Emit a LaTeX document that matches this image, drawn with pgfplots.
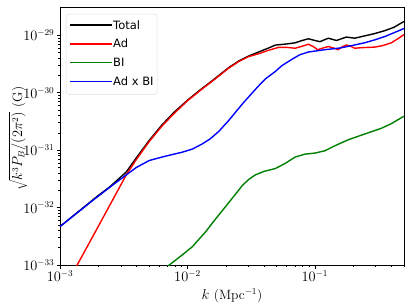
\documentclass[border=0pt]{standalone}
\usepackage{fontspec}
\newfontfamily\legendfont{DejaVu Sans}
\usepackage{pgfplots}
\pgfplotsset{compat=1.18}
\definecolor{mplgreen}{HTML}{008000}
\definecolor{mplblue}{HTML}{0000FF}
\definecolor{mplred}{HTML}{FF0000}
\begin{document}
\begin{tikzpicture}
\useasboundingbox (-60pt,-42pt) rectangle (353pt,265pt);
\begin{axis}[
  at={(0pt,0pt)}, anchor=south west,
  scale only axis, width=344pt, height=257.5pt,
  xmode=log, ymode=log,
  xmin=1e-3, xmax=0.5, ymin=1e-33, ymax=3.05e-29,
  axis line style={line width=0.8pt},
  tick align=outside, tick pos=left,
  major tick length=3.5pt, minor tick length=2pt,
  every tick/.style={black, line width=0.6pt},
  tick label style={font=\fontsize{13.5}{16}\selectfont},
  xticklabel style={inner sep=1.5pt},
  yticklabel style={inner sep=2pt},
  xlabel={$k$ (Mpc$^{-1}$)},
  ylabel={$\sqrt{k^3 P_B/(2\pi^2)}$ (G)},
  every axis x label/.style={at={(axis description cs:0.5,-0.1332)}, anchor=base,
    font=\fontsize{13.5}{16}\selectfont},
  every axis y label/.style={at={(axis description cs:-0.1221,0.491)}, anchor=center, rotate=90,
    font=\fontsize{13.5}{16}\selectfont},
  legend cell align=left,
  legend style={at={(0.0174,0.975)}, anchor=north west, draw=black!12,
    rounded corners=2.5pt, fill=white, inner xsep=3.6pt, inner ysep=2.3pt,
    font=\legendfont\fontsize{11.5}{13}\selectfont,
    nodes={inner sep=0pt, text height=12.6pt, text depth=6.3pt}},
  legend image code/.code={\draw[#1] (2pt,1pt) -- (31pt,1pt); \path (0pt,1pt) -- (42pt,1pt);},
  every axis plot/.append style={line width=1.4pt, line join=round},
]
\addlegendimage{color=black, line width=1.4pt}
\addlegendentry{Total}
\addlegendimage{color=mplred, line width=1.4pt}
\addlegendentry{Ad}
\addlegendimage{color=mplgreen, line width=1.4pt}
\addlegendentry{BI}
\addlegendimage{color=mplblue, line width=1.4pt}
\addlegendentry{Ad x BI}
% Total
\addplot[color=black, forget plot] coordinates {
(0.001,4.677e-33) (1.585e-3,1.072e-32) (1.995e-3,1.622e-32) (2.455e-3,2.291e-32)
(3.311e-3,4.169e-32) (3.981e-3,7.413e-32) (5.012e-3,1.479e-31)
(6.310e-3,2.754e-31) (7.943e-3,4.677e-31) (1e-2,7.413e-31)
(1.259e-2,1.122e-30) (1.585e-2,1.660e-30) (2.113e-2,2.754e-30) (2.512e-2,3.548e-30)
(3.027e-2,4.365e-30) (3.622e-2,5.129e-30) (4.335e-2,6.026e-30) (4.887e-2,6.761e-30)
(6.026e-2,7.079e-30) (6.998e-2,7.413e-30) (7.943e-2,8.128e-30) (8.892e-2,8.710e-30)
(0.1,8.128e-30) (0.1096,7.762e-30) (0.1274,8.913e-30) (0.1476,8.128e-30)
(0.1766,9.333e-30) (0.2051,8.913e-30) (0.2455,9.772e-30) (0.2938,1.072e-29)
(0.3516,1.202e-29) (0.4169,1.380e-29) (0.4898,1.698e-29) (0.5,1.738e-29)
};
% Ad
\addplot[color=mplred, forget plot] coordinates {
(1.318e-3,8.710e-34) (1.995e-3,4.677e-33) (2.512e-3,1.202e-32) (3.311e-3,3.715e-32)
(3.981e-3,6.918e-32) (5.012e-3,1.413e-31) (6.310e-3,2.630e-31) (7.943e-3,4.467e-31)
(1e-2,7.244e-31) (1.259e-2,1.096e-30) (1.585e-2,1.622e-30) (2.113e-2,2.692e-30)
(2.512e-2,3.467e-30) (3.027e-2,4.266e-30) (3.622e-2,4.786e-30) (4.335e-2,5.495e-30)
(5.188e-2,6.166e-30) (6.026e-2,6.166e-30) (6.998e-2,5.957e-30) (7.943e-2,6.457e-30)
(8.892e-2,7.000e-30) (9.772e-2,6.310e-30) (0.1052,5.623e-30) (0.1161,6.026e-30)
(0.1274,6.383e-30) (0.1396,6.026e-30) (0.1521,5.623e-30) (0.1641,6.310e-30)
(0.1766,6.808e-30) (0.1905,6.457e-30) (0.2051,5.957e-30) (0.2312,6.095e-30)
(0.2630,6.166e-30) (0.2938,6.237e-30) (0.3388,6.607e-30) (0.3981,7.413e-30)
(0.4467,8.710e-30) (0.4898,1.0e-29) (0.5,1.023e-29)
};
% BI
\addplot[color=mplgreen, forget plot] coordinates {
(6.918e-3,9.333e-34) (7.194e-3,1e-33) (8.913e-3,1.445e-33) (1.094e-2,2.089e-33)
(1.390e-2,3.802e-33) (1.660e-2,6.310e-33) (1.995e-2,1.047e-32) (2.317e-2,1.585e-32)
(2.685e-2,2.399e-32) (3.020e-2,3.090e-32) (3.412e-2,3.715e-32) (3.981e-2,4.266e-32)
(4.887e-2,4.786e-32) (5.848e-2,5.888e-32) (6.998e-2,7.586e-32) (8.318e-2,8.511e-32)
(0.1002,8.913e-32) (0.1199,9.772e-32) (0.1413,1.175e-31) (0.1820,1.514e-31)
(0.2239,1.778e-31) (0.2767,2.089e-31) (0.3311,2.399e-31) (0.3963,2.884e-31)
(0.4898,3.802e-31) (0.5,3.890e-31)
};
% Ad x BI
\addplot[color=mplblue, forget plot] coordinates {
(0.001,4.677e-33) (1.820e-3,1.349e-32) (2.512e-3,2.344e-32) (3.311e-3,3.715e-32)
(3.981e-3,5.012e-32) (5.012e-3,6.607e-32) (6.310e-3,7.586e-32) (7.638e-3,8.414e-32)
(9.120e-3,9.226e-32) (1.094e-2,1.047e-31) (1.309e-2,1.288e-31) (1.514e-2,1.585e-31)
(1.766e-2,2.138e-31) (2.113e-2,3.311e-31) (2.685e-2,6.310e-31)
(3.027e-2,8.511e-31) (3.548e-2,1.259e-30) (4.083e-2,1.738e-30) (4.887e-2,2.344e-30)
(5.495e-2,2.951e-30) (6.577e-2,3.802e-30) (7.586e-2,4.571e-30) (8.892e-2,5.129e-30)
(0.1199,5.623e-30) (0.1585,6.026e-30) (0.1932,6.607e-30) (0.2455,7.413e-30)
(0.2938,8.318e-30) (0.3548,9.550e-30) (0.4898,1.288e-29) (0.5,1.318e-29)
};
\end{axis}
\end{tikzpicture}
\end{document}
